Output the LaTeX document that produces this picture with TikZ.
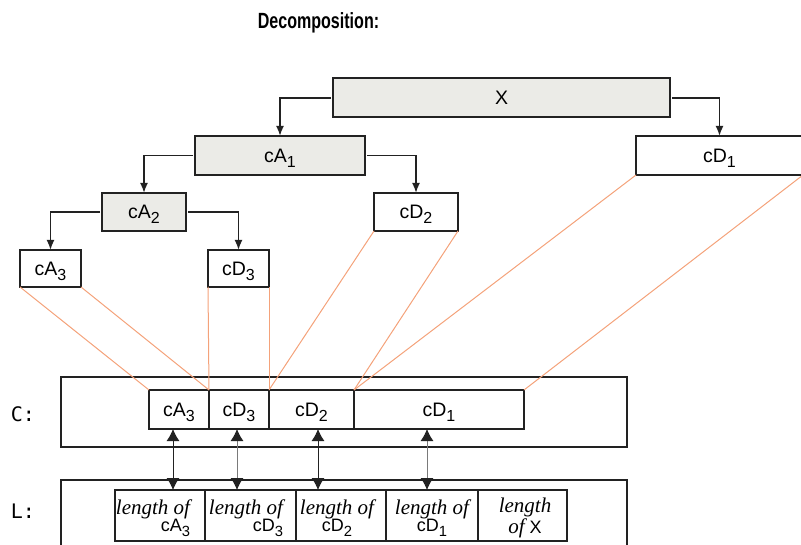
\documentclass[tikz,border=0pt]{standalone}
\usepackage{fontspec}
\usepackage{graphicx}
\setmainfont{Liberation Serif}
\setsansfont{Liberation Sans}
\setmonofont{DejaVu Sans Mono}
\newfontfamily\titlefont[FakeStretch=0.73]{Liberation Sans Bold}
\usetikzlibrary{positioning,arrows.meta}
\definecolor{boxgray}{HTML}{EBEBE7}
\definecolor{linkorange}{HTML}{F4A27A}
\definecolor{inkblack}{HTML}{222222}
\definecolor{stemgray}{HTML}{7A7A7A}
\newcommand\coef[2]{c#1\raisebox{-0.26em}{\scalebox{0.82}{#2}}}
\newcommand\lenit[1]{{\rmfamily\itshape\fontsize{21}{16}\selectfont #1}}

\begin{document}
\begin{tikzpicture}[x=1pt,y=-1pt,
  coefbox/.style={draw=inkblack,line width=2pt,inner sep=0pt,outer sep=0pt,
    minimum height=38pt,text depth=0pt,font=\sffamily\fontsize{19.5}{20}\selectfont},
  coefshade/.style={coefbox,fill=boxgray},
  ccell/.style={coefbox,minimum height=39pt},
  lcell/.style={coefbox,minimum height=51pt},
  framebox/.style={draw=inkblack,line width=2pt,inner sep=0pt,outer sep=0pt},
  lentext/.style={inner sep=0pt,font=\sffamily\fontsize{18}{16}\selectfont},
  rowlabel/.style={font=\ttfamily\fontsize{20}{20}\selectfont},
  treearrow/.style={draw=inkblack,line width=1.8pt,-{Latex[length=10pt,width=8pt]},shorten <=2pt},
  orangelink/.style={draw=linkorange,line width=1pt},
  lenarrow/.style={line width=1pt,
    {Latex[length=12pt,width=13pt,color=inkblack]}-{Latex[length=12pt,width=13pt,color=inkblack]}}
]
\path[use as bounding box,clip] (0,0) rectangle (801,545);

\node[font=\titlefont\fontsize{22}{24}\selectfont,anchor=base] (title) at (318.5,29) {Decomposition:};

\node[coefshade,minimum width=337pt,minimum height=39pt] (X) at (501.5,98) {X};
\node[coefshade,minimum width=170pt,minimum height=39pt] (A1) at (280,155.5) {\coef{A}{1}};
\node[coefbox,minimum width=167pt,minimum height=39pt] (D1) at (719.5,155.5) {\coef{D}{1}};
\node[coefshade,minimum width=84pt] (A2) at (144,212) {\coef{A}{2}};
\node[coefbox,minimum width=84pt] (D2) at (416,212) {\coef{D}{2}};
\node[coefbox,minimum width=61pt,minimum height=37pt] (A3) at (50.5,268.5) {\coef{A}{3}};
\node[coefbox,minimum width=61pt,minimum height=37pt] (D3) at (238.5,268.5) {\coef{D}{3}};

\draw[treearrow] (X.west) -| (A1.north);
\draw[treearrow] (X.east) -| (D1.north);
\draw[treearrow] (A1.west) -| (A2.north);
\draw[treearrow] (A1.east) -| (D2.north);
\draw[treearrow] (A2.west) -| (A3.north);
\draw[treearrow] (A2.east) -| (D3.north);

\node[rowlabel] (Clab) at (23,414) {C:};
\node[framebox,minimum width=566pt,minimum height=70pt] (Cframe) at (344,412) {};
\node[ccell,minimum width=60pt] (cA3) at (179,409.5) {\coef{A}{3}};
\node[ccell,minimum width=60pt,right=0pt of cA3] (cD3) {\coef{D}{3}};
\node[ccell,minimum width=85pt,right=0pt of cD3] (cD2) {\coef{D}{2}};
\node[ccell,minimum width=170pt,right=0pt of cD2] (cD1) {\coef{D}{1}};

\draw[orangelink] (A3.south west) -- (cA3.north west);
\draw[orangelink] (A3.south east) -- (cA3.north east);
\draw[orangelink] (D3.south west) -- (cD3.north west);
\draw[orangelink] (D3.south east) -- (cD3.north east);
\draw[orangelink] (D2.south west) -- (cD2.north west);
\draw[orangelink] (D2.south east) -- (cD2.north east);
\draw[orangelink] (D1.south west) -- (cD1.north west);
\draw[orangelink] (D1.south east) -- (cD1.north east);

\node[rowlabel] (Llab) at (23,511) {L:};
\node[framebox,minimum width=566pt,minimum height=90pt,anchor=north] (Lframe) at (344,480) {};
\node[lcell,minimum width=90pt] (lA3) at (160,515.5) {};
\node[lcell,minimum width=91pt,right=0pt of lA3] (lD3) {};
\node[lcell,minimum width=90pt,right=0pt of lD3] (lD2) {};
\node[lcell,minimum width=92pt,right=0pt of lD2] (lD1) {};
\node[lcell,minimum width=89pt,right=0pt of lD1] (lX) {};

\node[lentext,align=right] (tA3) at ([xshift=-7pt,yshift=-2.5pt]lA3.center) {\lenit{length of}\\\coef{A}{3}};
\node[lentext,align=right] (tD3) at ([xshift=-4.5pt,yshift=-2.5pt]lD3.center) {\lenit{length of}\\\coef{D}{3}};
\node[lentext,align=center] (tD2) at ([xshift=-4pt,yshift=-2.5pt]lD2.center) {\lenit{length of}\\\coef{D}{2}};
\node[lentext,align=center] (tD1) at ([yshift=-2.5pt]lD1.center) {\lenit{length of}\\\coef{D}{1}};
\node[lentext,align=center] (tX) at ([xshift=2.5pt,yshift=-2.5pt]lX.center) {\lenit{length}\\\lenit{of} X};

\draw[lenarrow,draw=inkblack] (173,0 |- cA3.south) -- (173,0 |- lA3.north);
\draw[lenarrow,draw=stemgray] (237,0 |- cD3.south) -- (237,0 |- lD3.north);
\draw[lenarrow,draw=inkblack] (318,0 |- cD2.south) -- (318,0 |- lD2.north);
\draw[lenarrow,draw=stemgray] (427,0 |- cD1.south) -- (427,0 |- lD1.north);
\end{tikzpicture}
\end{document}
